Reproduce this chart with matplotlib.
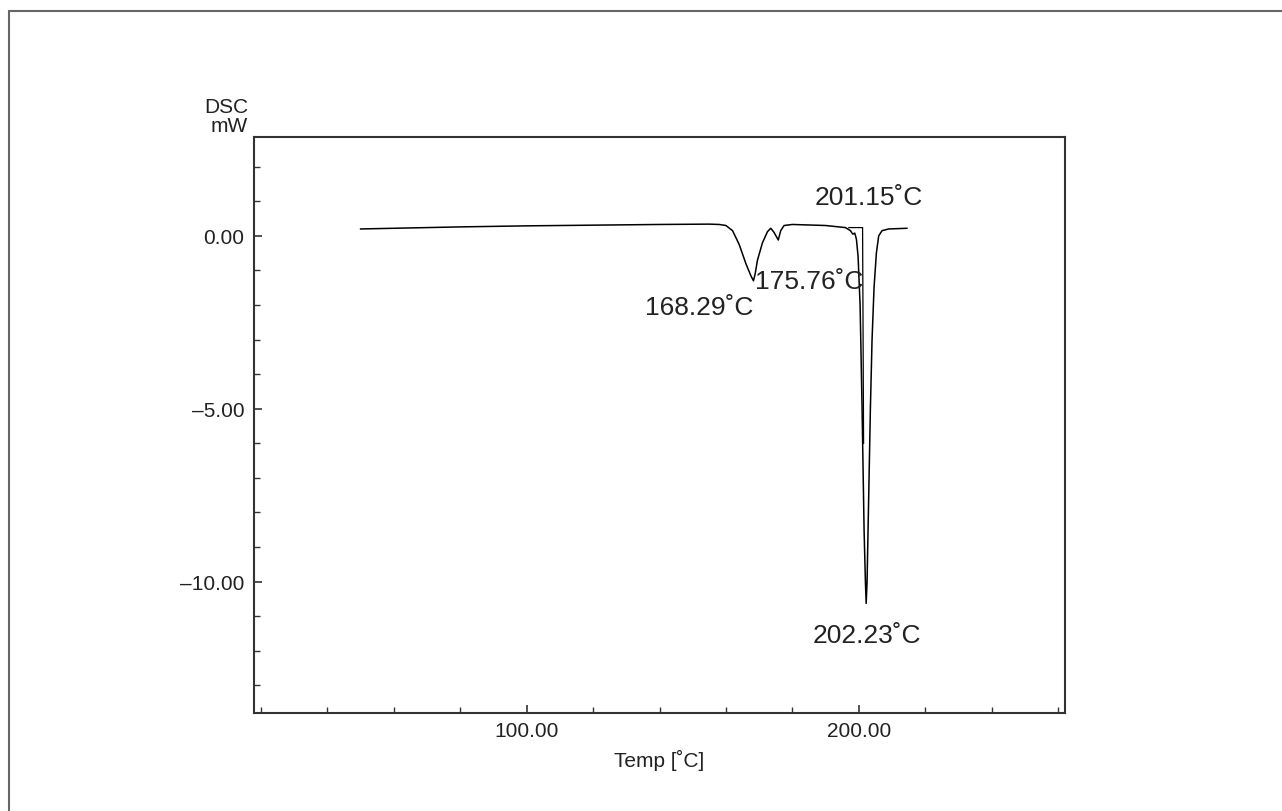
import matplotlib
matplotlib.use("Agg")
import matplotlib.pyplot as plt
from matplotlib.patches import Rectangle
from matplotlib.ticker import MultipleLocator, FuncFormatter

plt.rcParams['font.family'] = ['Liberation Sans', 'DejaVu Sans']

# DSC trace (temperature in C, heat flow in mW)
temp = [50, 60, 80, 100, 120, 140, 155, 158, 160, 162, 164, 166, 167.5, 168.29,
        168.8, 169.5, 171, 172.5, 173.5, 174.5, 175.76, 176.5, 177.5, 180, 190,
        196, 197.5, 198.2, 198.8, 199.3, 199.8, 200.4, 201.0, 201.6, 202.0,
        202.23, 202.5, 203.0, 203.5, 204.0, 204.6, 205.3, 206.0, 207, 209, 214.5]
dsc = [0.20, 0.22, 0.26, 0.29, 0.31, 0.33, 0.34, 0.33, 0.30, 0.15, -0.25, -0.80,
       -1.15, -1.30, -1.10, -0.70, -0.20, 0.12, 0.22, 0.10, -0.12, 0.15, 0.30,
       0.33, 0.30, 0.24, 0.15, 0.05, 0.08, -0.10, -0.60, -2.00, -5.00, -8.50,
       -10.00, -10.63, -10.00, -7.50, -5.00, -3.00, -1.50, -0.50, 0.00, 0.15,
       0.20, 0.22]

# onset construction for the main peak
onset_x = [197.0, 201.15, 201.45]
onset_y = [0.24, 0.24, -6.0]

peak_labels = ["168.29˚C", "175.76˚C", "201.15˚C", "202.23˚C"]
label_x = [151.9, 185.2, 203.1, 202.5]
label_y = [-2.05, -1.30, 1.13, -11.55]


def fmt(v, pos):
    return ('%.2f' % v).replace('-', '\u2013')


fig = plt.figure(figsize=(12.82, 8.12), dpi=100)
ax = fig.add_axes([254 / 1282, 98 / 812, 811 / 1282, 576 / 812])

ax.plot(temp, dsc, color='black', lw=1.1)
ax.plot(onset_x, onset_y, color='black', lw=0.9)

for txt, x, y in zip(peak_labels, label_x, label_y):
    ax.text(x, y, txt, ha='center', va='center', fontsize=19, color='#222222')

ax.set_xlim(17.9, 262.1)
ax.set_ylim(-13.8, 2.86)

ax.xaxis.set_major_locator(MultipleLocator(100))
ax.xaxis.set_minor_locator(MultipleLocator(20))
ax.yaxis.set_major_locator(MultipleLocator(5))
ax.yaxis.set_minor_locator(MultipleLocator(1))
ax.xaxis.set_major_formatter(FuncFormatter(fmt))
ax.yaxis.set_major_formatter(FuncFormatter(fmt))

ax.tick_params(which='both', direction='in', colors='#333333', labelsize=15,
               labelcolor='#222222')
ax.tick_params(which='major', length=6, width=1.2)
ax.tick_params(which='minor', length=4, width=1.0)
ax.tick_params(axis='x', pad=6)
ax.tick_params(axis='y', pad=7)
for sp in ax.spines.values():
    sp.set_color('#333333')
    sp.set_linewidth(1.5)

ax.set_xlabel('Temp [˚C]', fontsize=15, color='#222222', labelpad=6)
fig.text(226 / 1282, 1 - 108 / 812, 'DSC', ha='center', va='center',
         fontsize=15, color='#222222')
fig.text(229 / 1282, 1 - 127 / 812, 'mW', ha='center', va='center',
         fontsize=15, color='#222222')

# page frame
fig.add_artist(Rectangle((9 / 1282, -0.1), 1.2, 1.1 - 12 / 812,
                         transform=fig.transFigure, fill=False,
                         edgecolor='#666666', lw=1.5, clip_on=False))

fig.savefig('out.png', dpi=100)
